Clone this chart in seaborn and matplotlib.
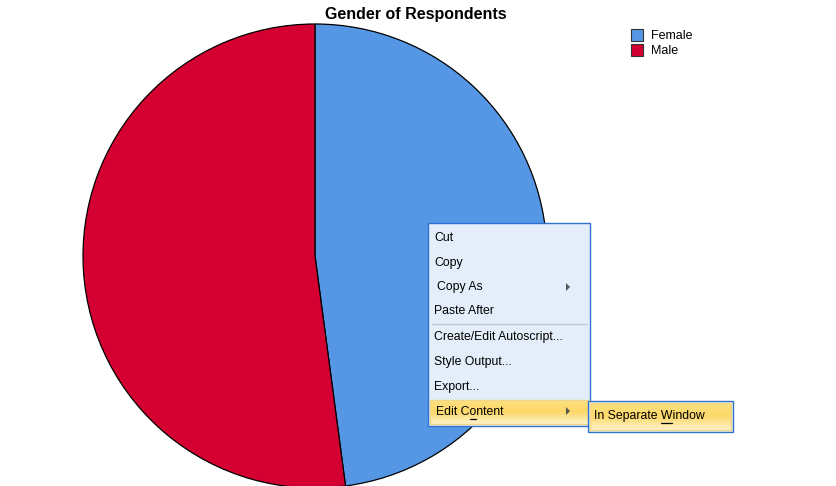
import numpy as np
import matplotlib
matplotlib.use("Agg")
import matplotlib.pyplot as plt
import seaborn as sns
from matplotlib.patches import Rectangle, Polygon
from matplotlib.lines import Line2D

# ---- data ----
categories = ["Female", "Male"]
percentages = [47.9, 52.1]
colors = ["#5597E5", "#D50032"]
title = "Gender of Respondents"
menu_items = ["Cut", "Copy", "Copy As", "Paste After",
              "Create/Edit Autoscript...", "Style Output...", "Export...", "Edit Content"]
submenu_items = ["In Separate Window"]

sns.set_style("white")
plt.rcParams['font.family'] = ['Liberation Sans', 'DejaVu Sans']

W, H = 836, 486
fig = plt.figure(figsize=(W / 100, H / 100), dpi=100)

# pie axes: 1 data unit = 232 px, centre at (315, 256) px from top-left
R = 232.0
cx, cy = 315.0, 256.0
ax = fig.add_axes([0, 0, 1, 1])
wedges, _ = ax.pie(percentages, colors=colors, startangle=90, counterclock=False,
                   radius=1.0, wedgeprops=dict(edgecolor='black', linewidth=0.9))
ax.set_aspect('auto')
ax.set_xlim(-cx / R, (W - cx) / R)
ax.set_ylim(-(H - cy) / R, cy / R)
ax.axis('off')


def px(x, y):
    return x / W, 1 - y / H


# title
fig.text(*px(416, 14), title, ha='center', va='center',
         fontsize=11.5, fontweight='bold', color='black')

# legend
leg_y = [36, 51]
for lab, col, yy in zip(categories, colors, leg_y):
    fig.patches.append(Rectangle(px(631, yy + 5), 12 / W, 12 / H, transform=fig.transFigure,
                                 facecolor=col, edgecolor='#333333', linewidth=0.8))
    fig.text(*px(651, yy), lab, ha='left', va='center', fontsize=9, color='black')


# context menu
def rect(x0, y0, x1, y1, fc, ec, lw=1.0, z=5):
    fig.patches.append(Rectangle(px(x0, y1), (x1 - x0) / W, (y1 - y0) / H,
                                 transform=fig.transFigure, facecolor=fc, edgecolor=ec,
                                 linewidth=lw, zorder=z))


def gradient_box(x0, y0, x1, y1, border, z):
    gax = fig.add_axes([x0 / W, 1 - y1 / H, (x1 - x0) / W, (y1 - y0) / H], zorder=z)
    top = np.array([253, 226, 130]) / 255
    mid = np.array([252, 216, 105]) / 255
    bot = np.array([254, 243, 200]) / 255
    img = np.zeros((50, 1, 3))
    for i, t in enumerate(np.linspace(0, 1, 50)):
        if t < 0.5:
            c = top + (mid - top) * (t / 0.5)
        else:
            c = mid + (bot - mid) * ((t - 0.5) / 0.5)
        img[i, 0] = c
    gax.imshow(img, aspect='auto', extent=[0, 1, 0, 1])
    gax.set_xticks([]); gax.set_yticks([])
    for s in gax.spines.values():
        s.set_edgecolor(border); s.set_linewidth(1.0)
    return gax


rect(428, 223, 590, 426, '#E3EEFA', '#2E72CF', 1.0)
gradient_box(430, 400, 589, 424, '#F0D68A', 6)

# submenu
rect(588, 401, 733, 432, '#E3EEFA', '#2E72CF', 1.0, z=7)
gradient_box(590, 403, 731, 430, '#F0D68A', 8)

FS = 8.8
item_y = [238, 263, 287, 311, 337, 362, 387, 412]
item_x = [434, 434, 437, 434, 434, 434, 434, 436]
for txt, xx, yy in zip(menu_items, item_x, item_y):
    fig.text(*px(xx, yy), txt, ha='left', va='center', fontsize=FS, color='black', zorder=10)
fig.text(*px(594, 416), submenu_items[0], ha='left', va='center', fontsize=FS,
         color='black', zorder=10)

# separator
fig.lines.append(Line2D([432 / W, 587 / W], [1 - 324 / H] * 2, transform=fig.transFigure,
                        color='#BFC8D2', linewidth=1.0, zorder=9))

# submenu arrows
for yy in [287, 411]:
    fig.patches.append(Polygon([px(566, yy - 4), px(566, yy + 4), px(570, yy)],
                               closed=True, transform=fig.transFigure,
                               facecolor='#555555', edgecolor='none', zorder=10))

# access-key underlines: measure invisible prefix texts placed at the same spot
probes = []
for label, idx, x0, yy, uy in [("Edit Content", 6, 436, 412, 419),
                               ("In Separate Window", 12, 594, 416, 423)]:
    t1 = fig.text(*px(x0, yy), label[:idx], ha='left', va='center', fontsize=FS, alpha=0)
    t2 = fig.text(*px(x0, yy), label[:idx + 1], ha='left', va='center', fontsize=FS, alpha=0)
    probes.append((t1, t2, uy))
fig.canvas.draw()
renderer = fig.canvas.get_renderer()
for t1, t2, uy in probes:
    a = t1.get_window_extent(renderer).x1
    b = t2.get_window_extent(renderer).x1
    fig.lines.append(Line2D([(a + 0.5) / W, (b - 0.5) / W], [1 - uy / H] * 2,
                            transform=fig.transFigure, color='black', linewidth=0.9, zorder=11))
    t1.remove(); t2.remove()

fig.savefig("out.png", dpi=100)
